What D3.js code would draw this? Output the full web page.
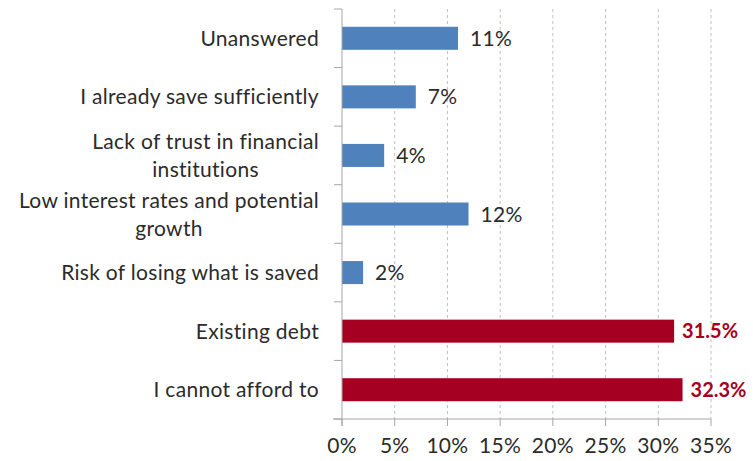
<!DOCTYPE html>
<html>
<head>
<meta charset="utf-8">
<script src="https://cdn.jsdelivr.net/npm/d3@7"></script>
<style>
  html, body { margin: 0; padding: 0; background: #fff; }
  svg { display: block; font-family: Lato, "Open Sans", sans-serif; letter-spacing: 0.3px; }
</style>
</head>
<body>
<svg id="chart" width="753" height="461"></svg>
<script>
// Reasons for not saving (share of respondents, %)
const categories = [
  "Unanswered",
  "I already save sufficiently",
  "Lack of trust in financial\ninstitutions",
  "Low interest rates and potential\ngrowth",
  "Risk of losing what is saved",
  "Existing debt",
  "I cannot afford to"
];
const values = [11, 7, 4, 12, 2, 31.5, 32.3];
const highlighted = [false, false, false, false, false, true, true];
const xTicks = [0, 5, 10, 15, 20, 25, 30, 35];

const blue = "#4F81BD";
const red = "#A50021";
const textColor = "#2B2B2B";
const fontSize = 21;

const svg = d3.select("#chart");
const plotLeft = 342, plotRight = 711, plotTop = 9, plotBottom = 419;

const x = d3.scaleLinear().domain([0, 35]).range([plotLeft, plotRight]);
const pad = 0.607;
const y = d3.scaleBand().domain(categories).range([plotTop, plotBottom])
  .paddingInner(pad).paddingOuter(pad / 2);
const step = y.step();

// dashed vertical gridlines
svg.append("g").selectAll("line")
  .data(xTicks.filter(t => t > 0))
  .join("line")
  .attr("x1", d => x(d)).attr("x2", d => x(d))
  .attr("y1", plotTop).attr("y2", plotBottom)
  .attr("stroke", "#BFBFBF").attr("stroke-width", 1)
  .attr("stroke-dasharray", "3,3");

// bars
const rows = categories.map((c, i) => ({ c, v: values[i], hi: highlighted[i] }));
svg.append("g").selectAll("rect")
  .data(rows)
  .join("rect")
  .attr("x", x(0))
  .attr("y", d => y(d.c))
  .attr("width", d => x(d.v) - x(0))
  .attr("height", y.bandwidth())
  .attr("fill", d => d.hi ? red : blue);

// value labels
svg.append("g").selectAll("text")
  .data(rows)
  .join("text")
  .attr("x", d => x(d.v) + (d.hi ? 8 : 12))
  .attr("y", d => y(d.c) + y.bandwidth() / 2)
  .attr("dy", "0.36em")
  .attr("font-size", d => d.hi ? 20 : fontSize)
  .attr("letter-spacing", d => d.hi ? "0px" : null)
  .attr("font-weight", d => d.hi ? "bold" : "normal")
  .attr("fill", d => d.hi ? red : textColor)
  .text(d => d.hi ? d.v.toFixed(1) + "%" : d.v + "%");

// x axis
const xAxis = svg.append("g").attr("transform", `translate(0,${plotBottom})`);
xAxis.append("line").attr("x1", plotLeft - 9).attr("x2", plotRight).attr("y1", 0).attr("y2", 0)
  .attr("stroke", "#A6A6A6");
xAxis.selectAll(".tk").data(xTicks).join("line")
  .attr("x1", d => x(d)).attr("x2", d => x(d)).attr("y1", 0).attr("y2", 7)
  .attr("stroke", "#A6A6A6");
xAxis.selectAll("text").data(xTicks).join("text")
  .attr("x", d => x(d)).attr("y", 26)
  .attr("dy", "0.36em")
  .attr("text-anchor", "middle")
  .attr("font-size", fontSize)
  .attr("fill", textColor)
  .text(d => d + "%");

// y axis
const yAxis = svg.append("g");
yAxis.append("line").attr("x1", plotLeft).attr("x2", plotLeft).attr("y1", plotTop).attr("y2", plotBottom + 7)
  .attr("stroke", "#A6A6A6");
yAxis.selectAll(".tk").data(d3.range(categories.length + 1)).join("line")
  .attr("x1", plotLeft - 8).attr("x2", plotLeft)
  .attr("y1", i => plotTop + i * step).attr("y2", i => plotTop + i * step)
  .attr("stroke", "#A6A6A6");

// category labels (multi-line ones centred within the right-aligned block)
const lineH = 28;
categories.forEach(c => {
  const lines = c.split("\n");
  const cy = y(c) + y.bandwidth() / 2;
  const t = yAxis.append("text")
    .attr("font-size", fontSize)
    .attr("fill", textColor);
  lines.forEach((ln, k) => {
    t.append("tspan")
      .attr("x", 0)
      .attr("y", cy + (k - (lines.length - 1) / 2) * lineH)
      .attr("dy", "0.36em")
      .attr("text-anchor", "middle")
      .text(ln);
  });
  const w = d3.max(t.selectAll("tspan").nodes(), n => n.getComputedTextLength());
  t.selectAll("tspan").attr("x", plotLeft - 23 - w / 2);
});
</script>
</body>
</html>
